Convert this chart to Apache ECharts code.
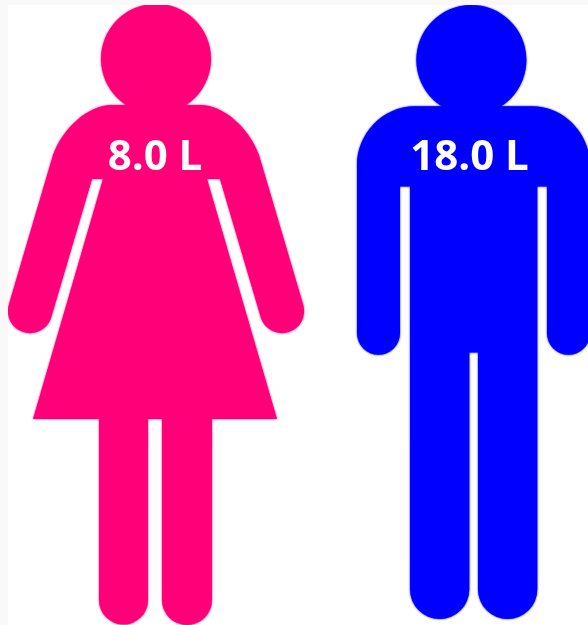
<!DOCTYPE html>
<html>
<head>
<meta charset="utf-8">
<style>html,body{margin:0;padding:0;background:#fff}#c{width:588px;height:625px}</style>
<script src="https://cdn.jsdelivr.net/npm/echarts@6/dist/echarts.min.js"></script>
</head>
<body>
<div id="c"></div>
<script>
const categories = ['Women', 'Men'];
const litres = [8.0, 18.0];
const unit = 'L';

const womanPath = 'path://M126 105A55 55 0 1 1 186 105H200C224 105 249 128 259 155L303 304A22 22 0 0 1 261 318L220 179H207L277 419H212V600A25 25 0 0 1 162 600V419H148V600A24.5 24.5 0 0 1 99 600V419H33L103 179H92L51 318A22 22 0 0 1 9 304L53 155C63 128 88 105 112 105Z';
const manPath = 'path://M441.7 106.5A55 55 0 1 1 501 106.5H532C565 106.5 590 135 590 165V333.5A21.5 21.5 0 0 1 547 333.5V186.7H537.3V589.5A29.65 29.65 0 0 1 478 589.5V352.7H469.3V589.5A29.65 29.65 0 0 1 410 589.5V186.7H400V333.5A21.5 21.5 0 0 1 357 333.5V165C357 135 382 106.5 415 106.5Z';

const looks = [
  { symbol: womanPath, size: [296.2, 621.1], offset: [0, 0], color: '#FF0078', labelOffset: [-1, -441] },
  { symbol: manPath, size: [233, 614], offset: [0, -6], color: '#0000FF', labelOffset: [-4, -441] }
];

const chart = echarts.init(document.getElementById('c'), null, { renderer: 'canvas' });
chart.setOption({
  animation: false,
  backgroundColor: '#ffffff',
  grid: { left: -2.75, top: 0, width: 635, height: 625, containLabel: false, outerBoundsMode: 'none' },
  xAxis: { type: 'category', data: categories, show: false },
  yAxis: { type: 'value', min: 0, max: 20, show: false },
  graphic: [
    { type: 'rect', z: 100, shape: { x: 0, y: 0, width: 588, height: 5 }, style: { fill: '#F9F9F9' } },
    { type: 'rect', z: 100, shape: { x: 0, y: 0, width: 8, height: 625 }, style: { fill: '#F9F9F9' } }
  ],
  series: [{
    type: 'pictorialBar',
    symbolPosition: 'start',
    silent: true,
    data: litres.map((v, i) => ({
      value: v,
      symbol: looks[i].symbol,
      symbolSize: looks[i].size,
      symbolOffset: looks[i].offset,
      symbolKeepAspect: false,
      itemStyle: { color: looks[i].color, shadowBlur: 2, shadowColor: looks[i].color },
      label: {
        show: true,
        position: 'insideBottom',
        offset: looks[i].labelOffset,
        formatter: v.toFixed(1) + ' ' + unit,
        fontFamily: '"Open Sans"',
        fontWeight: 'bold',
        fontSize: 42,
        color: '#FFFFFF'
      }
    }))
  }]
});
</script>
</body>
</html>
